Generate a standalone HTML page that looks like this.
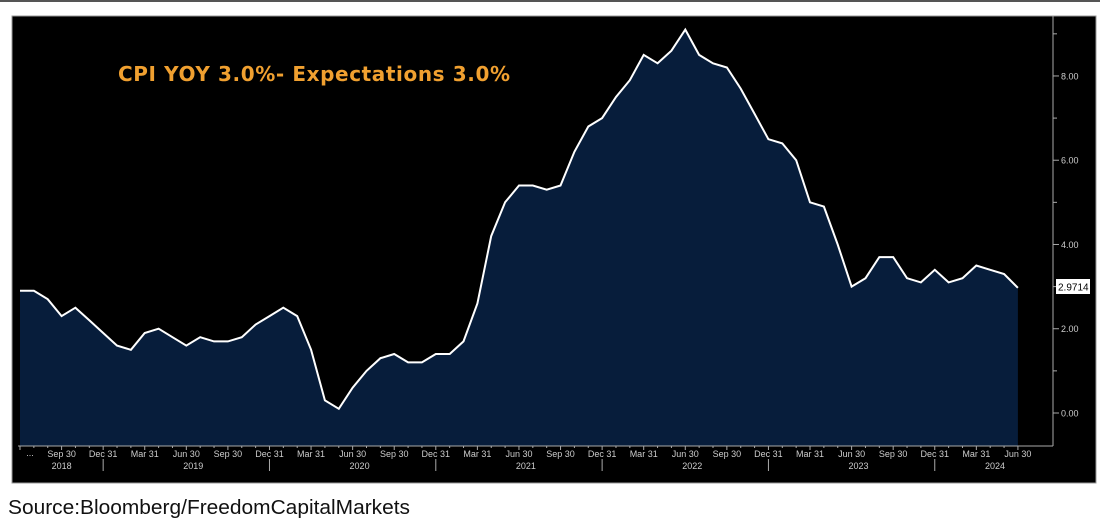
<!DOCTYPE html>
<html><head><meta charset="utf-8"><style>
body{margin:0;background:#fff;width:1100px;height:519px;overflow:hidden;font-family:"Liberation Sans",sans-serif}
</style></head><body>
<svg width="1100" height="519" xmlns="http://www.w3.org/2000/svg" id="s">
<rect x="0" y="0" width="1100" height="2" fill="#555"/>
<rect x="12" y="16" width="1084" height="467" fill="#000" stroke="#999" stroke-width="1"/>
<g id="g"></g>
<text x="118" y="81" fill="#f0a030" font-family="DejaVu Sans,Liberation Sans,sans-serif" font-weight="bold" font-size="20" textLength="392" lengthAdjust="spacing">CPI YOY 3.0%- Expectations 3.0%</text>
<text x="8" y="514" fill="#111" font-size="20" textLength="402" lengthAdjust="spacingAndGlyphs">Source:Bloomberg/FreedomCapitalMarkets</text>
</svg>
<script>
var d=[2.9,2.9,2.7,2.3,2.5,2.2,1.9,1.6,1.5,1.9,2.0,1.8,1.6,1.8,1.7,1.7,1.8,2.1,2.3,2.5,2.3,1.5,0.3,0.1,0.6,1.0,1.3,1.4,1.2,1.2,1.4,1.4,1.7,2.6,4.2,5.0,5.4,5.4,5.3,5.4,6.2,6.8,7.0,7.5,7.9,8.5,8.3,8.6,9.1,8.5,8.3,8.2,7.7,7.1,6.5,6.4,6.0,5.0,4.9,4.0,3.0,3.2,3.7,3.7,3.2,3.1,3.4,3.1,3.2,3.5,3.4,3.3,2.9714];
function X(i){return 20+13.86*i}function Y(v){return 413-42.13*v}
var h='',p=d.map(function(v,i){return X(i).toFixed(1)+','+Y(v).toFixed(1)}).join(' ');
h+='<polygon points="20,446 '+p+' '+X(72).toFixed(1)+',446" fill="#071d3b"/>';
h+='<polyline points="'+p+'" fill="none" stroke="#fff" stroke-width="2"/>';
h+='<line x1="1053" y1="16" x2="1053" y2="446" stroke="#aaa"/>';
h+='<line x1="18" y1="446" x2="1053" y2="446" stroke="#aaa"/>';
for(var v=0;v<=9;v++){var y=Y(v);h+='<line x1="1053" y1="'+y+'" x2="'+(v%2?1057:1059)+'" y2="'+y+'" stroke="#aaa"/>';
if(v%2==0)h+='<text x="1061" y="'+(y+3.5)+'" fill="#ccc" font-size="9">'+v.toFixed(2)+'</text>';}
h+='<rect x="1056" y="279" width="34" height="15" fill="#fff"/><text x="1058" y="290.5" font-size="10" fill="#000">2.9714</text>';
var q=['Sep 30','Dec 31','Mar 31','Jun 30'];
h+='<text x="30" y="456" fill="#ccc" font-size="9" text-anchor="middle">...</text>';
for(var i=0;i<=72;i++){var x=X(i);h+='<line x1="'+x+'" y1="446" x2="'+x+'" y2="'+(i%3==0?450:448)+'" stroke="#aaa"/>';}
for(var k=0;k<24;k++){var i=3+3*k,x=X(i);h+='<text x="'+x+'" y="457" fill="#ccc" font-size="9" text-anchor="middle">'+q[k%4]+'</text>';
if(k%4==1&&k<23)h+='<line x1="'+x+'" y1="459" x2="'+x+'" y2="471" stroke="#aaa"/>';}
var yrs=[[2018,X(3)],[2019,X(12.5)],[2020,X(24.5)],[2021,X(36.5)],[2022,X(48.5)],[2023,X(60.5)],[2024,995]];
yrs.forEach(function(a){h+='<text x="'+a[1]+'" y="469" fill="#ccc" font-size="9" text-anchor="middle">'+a[0]+'</text>'});
document.getElementById('g').innerHTML=h;
</script>
</body></html>
